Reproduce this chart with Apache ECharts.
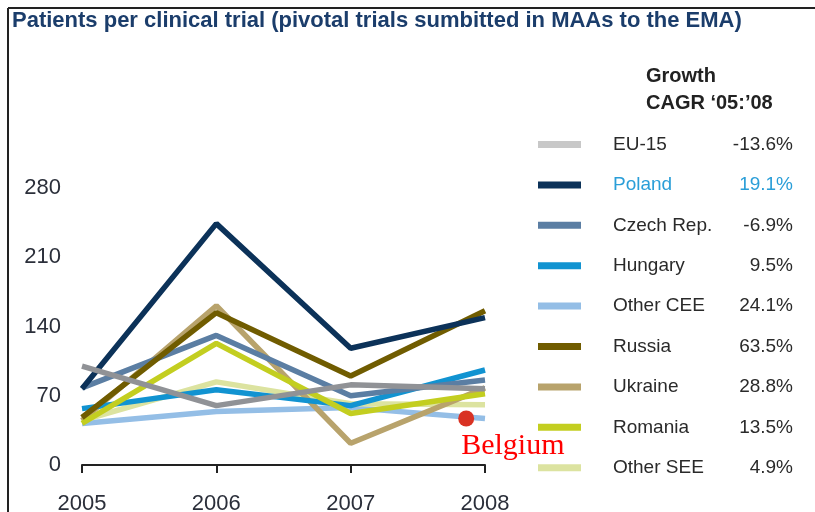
<!DOCTYPE html>
<html>
<head>
<meta charset="utf-8">
<script src="https://cdn.jsdelivr.net/npm/echarts@6/dist/echarts.min.js"></script>
<style>
html, body { margin: 0; padding: 0; background: #fff; }
#chart { width: 815px; height: 512px; }
</style>
</head>
<body>
<div id="chart"></div>
<script>
// data
var years = [2005, 2006, 2007, 2008];
var names = ['EU-15', 'Poland', 'Czech Rep.', 'Hungary', 'Other CEE', 'Russia', 'Ukraine', 'Romania', 'Other SEE'];
var cagr = ['-13.6%', '19.1%', '-6.9%', '9.5%', '24.1%', '63.5%', '28.8%', '13.5%', '4.9%'];

var eu15     = [100, 60, 81, 77];
var poland   = [77, 244, 118, 149];
var czech    = [78, 131, 70, 86];
var hungary  = [57, 76, 60, 96];
var otherCee = [42, 54, 58, 47];
var russia   = [48, 154, 90, 156];
var ukraine  = [45, 161, 22, 78];
var romania  = [42, 123, 52, 72];
var otherSee = [45, 84, 62, 61];

var belgium = [2007.86, 47];

function pts(vals) {
    return vals.map(function (v, i) { return [years[i], v]; });
}

var lineColors = {
    'EU-15': '#909296', 'Poland': '#0c3259', 'Czech Rep.': '#5b7ea3', 'Hungary': '#1193d1',
    'Other CEE': '#94bee6', 'Russia': '#705c00', 'Ukraine': '#b8a36c', 'Romania': '#c3ce20',
    'Other SEE': '#dce3a0'
};
var legendColors = {
    'EU-15': '#c8c8c8', 'Poland': '#0c3259', 'Czech Rep.': '#5b7ea3', 'Hungary': '#1193d1',
    'Other CEE': '#94bee6', 'Russia': '#705c00', 'Ukraine': '#b8a36c', 'Romania': '#c3ce20',
    'Other SEE': '#dce3a0'
};

var seriesData = {
    'EU-15': eu15, 'Poland': poland, 'Czech Rep.': czech, 'Hungary': hungary,
    'Other CEE': otherCee, 'Russia': russia, 'Ukraine': ukraine, 'Romania': romania,
    'Other SEE': otherSee
};
// drawing order (later = on top)
var drawOrder = ['Other CEE', 'Other SEE', 'Ukraine', 'Hungary', 'Romania', 'Czech Rep.', 'Russia', 'Poland', 'EU-15'];

var series = drawOrder.map(function (n) {
    return {
        name: n,
        type: 'line',
        data: pts(seriesData[n]),
        symbol: 'none',
        color: legendColors[n],
        lineStyle: { color: lineColors[n], width: 5.5 }
    };
});

series.push({
    name: 'Belgium',
    type: 'scatter',
    data: [belgium],
    symbol: 'circle',
    symbolSize: 16,
    clip: false,
    itemStyle: { color: '#d93223', opacity: 1 },
    label: {
        show: true,
        formatter: 'Belgium',
        position: [3, 21],
        align: 'left',
        verticalAlign: 'top',
        color: '#ff0000',
        fontFamily: 'Liberation Serif',
        fontSize: 30
    },
    z: 10
});

var chart = echarts.init(document.getElementById('chart'));
var option = {
    animation: false,
    title: [{
        text: 'Patients per clinical trial (pivotal trials sumbitted in MAAs to the EMA)',
        left: 12,
        top: 10,
        padding: 0,
        textStyle: { fontFamily: 'Liberation Sans', fontWeight: 'bold', fontSize: 22, color: '#1b3d6b' }
    }, {
        text: 'Growth\nCAGR \u201805:\u201908',
        left: 646,
        top: 63,
        padding: 0,
        textStyle: { fontFamily: 'Liberation Sans', fontWeight: 'bold', fontSize: 20, lineHeight: 27, color: '#222' }
    }],
    legend: {
        orient: 'vertical',
        left: 533,
        top: 130,
        icon: 'rect',
        itemWidth: 43,
        itemHeight: 7,
        itemGap: 21.4,
        selectedMode: false,
        data: names.map(function (n) { return { name: n, itemStyle: { color: legendColors[n] } }; }),
        formatter: function (n) {
            var v = cagr[names.indexOf(n)];
            if (n === 'Poland') return '{pn|' + n + '}{pv|' + v + '}';
            return '{n|' + n + '}{v|' + v + '}';
        },
        textStyle: {
            fontFamily: 'Liberation Sans',
            fontSize: 19,
            rich: {
                n:  { fontSize: 19, color: '#2a2a2a', width: 115, padding: [0, 0, 0, 27], lineHeight: 20 },
                v:  { fontSize: 19, color: '#2a2a2a', width: 65, align: 'right', lineHeight: 20 },
                pn: { fontSize: 19, color: '#2a9ed8', width: 115, padding: [0, 0, 0, 27], lineHeight: 20 },
                pv: { fontSize: 19, color: '#2a9ed8', width: 65, align: 'right', lineHeight: 20 }
            }
        }
    },
    grid: { left: 82, right: 330, top: 188, bottom: 47, containLabel: false, outerBoundsMode: 'none' },
    xAxis: {
        type: 'value',
        min: 2005,
        max: 2008,
        interval: 1,
        splitLine: { show: false },
        axisLine: { show: true, lineStyle: { color: '#222', width: 2 } },
        axisTick: { show: true, length: 8, lineStyle: { color: '#222', width: 2 } },
        axisLabel: {
            margin: 28, fontFamily: 'Liberation Sans', fontSize: 22, color: '#2b2f3a',
            formatter: function (v) { return String(v); }
        }
    },
    yAxis: {
        type: 'value',
        min: 0,
        max: 280,
        interval: 70,
        splitLine: { show: false },
        axisLine: { show: false },
        axisTick: { show: false },
        axisLabel: { margin: 21, fontFamily: 'Liberation Sans', fontSize: 22, color: '#2b2f3a' }
    },
    graphic: [
        { type: 'line', shape: { x1: 8, y1: 8, x2: 815, y2: 8 }, style: { stroke: '#222', lineWidth: 2 } },
        { type: 'line', shape: { x1: 8, y1: 8, x2: 8, y2: 512 }, style: { stroke: '#222', lineWidth: 2 } }
    ],
    series: series
};
chart.setOption(option);
</script>
</body>
</html>
